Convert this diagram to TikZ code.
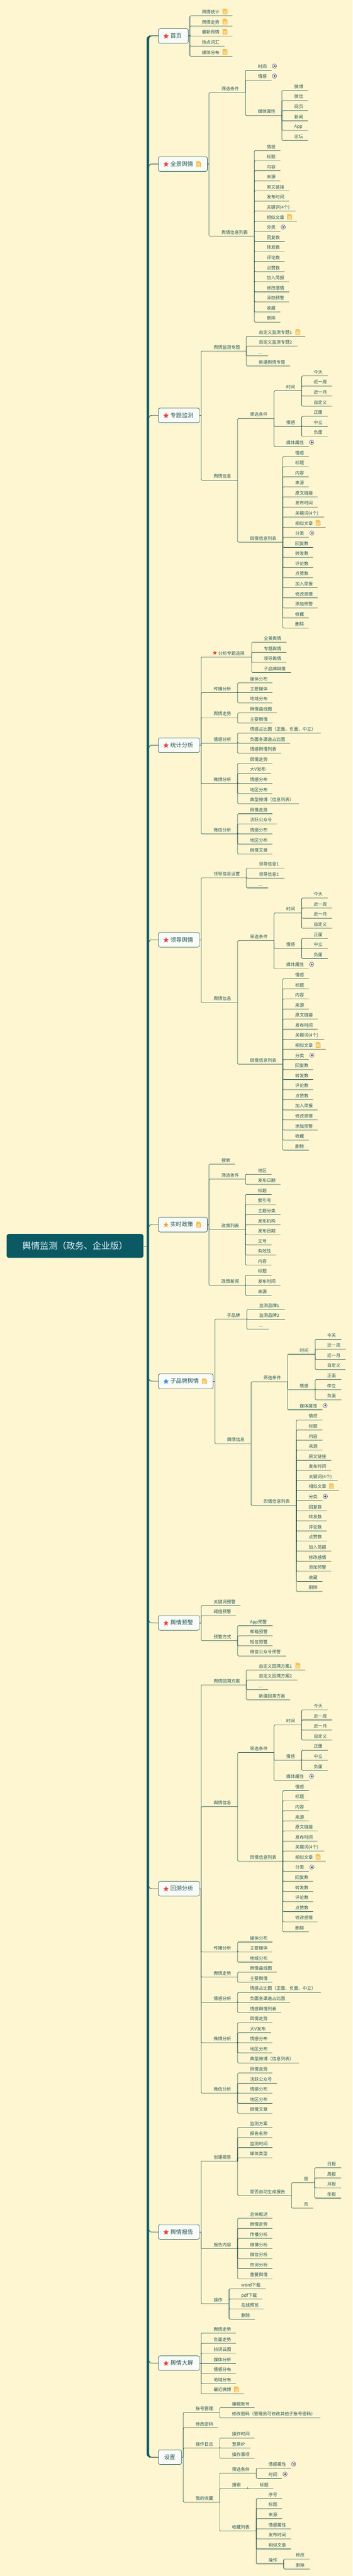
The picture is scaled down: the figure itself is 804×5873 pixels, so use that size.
\documentclass[tikz,border=0pt]{standalone}
\usepackage{fontspec}
\setmainfont{Noto Sans CJK SC}
\usetikzlibrary{shapes.geometric}
\definecolor{bgc}{HTML}{FDF6D0}
\definecolor{trunkc}{HTML}{0B5A63}
\definecolor{linec}{HTML}{17484B}
\definecolor{textc}{HTML}{24585A}
\definecolor{boxc}{HTML}{F8FBF6}
\definecolor{docc}{HTML}{F6C35A}
\definecolor{docl}{HTML}{FDE9B8}
\definecolor{starr}{HTML}{E8413E}
\definecolor{staro}{HTML}{F5A623}
\definecolor{starb}{HTML}{3D8FE0}
\tikzset{
 lab/.style={anchor=base west,inner sep=0pt,text=textc,font=\fontsize{10}{12}\selectfont},
 lnk/.style={draw=linec,line width=.8pt,rounded corners=2pt},
 boxn/.style={draw=linec,line width=.8pt,fill=boxc,rounded corners=4pt,anchor=west,inner sep=0pt,minimum height=33.3pt},
 boxt/.style={anchor=base west,inner sep=0pt,text=textc,font=\fontsize{13}{15}\selectfont},
 branch/.style={draw=linec,line width=1pt},
 rootn/.style={fill=trunkc,rounded corners=5pt,inner sep=0pt,minimum width=312pt,minimum height=54.4pt,text=white!92!cyan,font=\fontsize{20}{24}\selectfont},
 staric/.style={star,star points=5,star point ratio=2.2,inner sep=0pt,minimum size=#1},
}
\newcounter{nn}
\def\off{0}
\newcommand\Crop[1]{\def\off{#1}}
\newcommand\Kd[5]{%
 \stepcounter{nn}%
 \pgfmathsetmacro\Yp{\off+(#3)/3}%
 \pgfmathsetmacro\Xe{(#4)/1.95}%
 \pgfmathsetmacro\Xt{(#2)/1.95}%
 \pgfmathtruncatemacro\Lp{#1-1}%
 \coordinate (lv#1) at (\Xe,\Yp);%
 \node[lab] (n\arabic{nn}) at ({\Xt},{\Yp-5}) {#5};%
 \draw[lnk] (lv\Lp) |- (lv#1);%
}
\newcommand\DocI[2]{%
 \pgfmathsetmacro\Xc{(#1)/1.95}\pgfmathsetmacro\Yc{\off+(#2)/3}%
 \begin{scope}[shift={(\Xc,\Yc)}]
 \fill[docc] (-5.5,-6.5) -- (2,-6.5) -- (5.5,-3) -- (5.5,6) .. controls (5.5,6.5) and (5.2,6.5) .. (5,6.5) -- (-5,6.5) .. controls (-5.5,6.5) and (-5.5,6.2) .. (-5.5,6) -- cycle;
 \draw[docl,line width=.7pt] (-3.5,-1) -- (3.5,-1) (-3.5,1.5) -- (3.5,1.5) (-3.5,4) -- (3.5,4);
 \end{scope}}
\newcommand\PlusI[2]{%
 \pgfmathsetmacro\Xc{(#1)/1.95}\pgfmathsetmacro\Yc{\off+(#2)/3}%
 \begin{scope}[shift={(\Xc,\Yc)}]
 \draw[draw=black!55!blue!60!gray,fill=white!60!bgc,line width=.6pt] (0,0) circle[radius=5];
 \draw[black!80,line width=.6pt] (-2.5,0) -- (2.5,0) (0,-2.5) -- (0,2.5);
 \end{scope}}
\newcommand\StarI[4]{%
 \pgfmathsetmacro\Xc{(#2)/1.95}\pgfmathsetmacro\Yc{\off+(#3)/3}%
 \node[staric=#4,fill=#1] at (\Xc,\Yc) {};}
% right edge (zoom x), mid y (crop), text, text x, direction of the trunk junction
\newcommand\Bx[5]{%
 \stepcounter{nn}%
 \pgfmathsetmacro\Ym{\off+(#2)/3}%
 \pgfmathsetmacro\Bw{((#1)-703)/1.95}%
 \pgfmathsetmacro\Xs{((#1)+8)/1.95}%
 \pgfmathsetmacro\Ja{\Ym+(#5)*5}%
 \pgfmathsetmacro\Jb{\Ym+(#5)*1.5}%
 \node[boxn,minimum width=\Bw pt] (b\arabic{nn}) at (360.5,\Ym) {};%
 \node[boxt] (t\arabic{nn}) at ({(#4)/1.95},{\Ym+4.5}) {#3};%
 \coordinate (lv1) at (\Xs,\Ym);%
 \coordinate (ja) at (340,\Ja);%
 \draw[branch] (ja) .. controls (340,\Jb) and (342,\Ym) .. (346,\Ym) -- (b\arabic{nn}.west);%
 \draw[lnk] (b\arabic{nn}.east) -- (lv1);%
}
\newcommand\FilterBlock[2]{%
 \Kd{3}{#1}{#2}{#1+107}{筛选条件}
 \Kd{4}{#1+161}{#2-189}{#1+230}{时间}
 \Kd{5}{#1+283}{#2-291}{#1+346}{今天}
 \Kd{5}{#1+283}{#2-222}{#1+365}{近一周}
 \Kd{5}{#1+283}{#2-153}{#1+365}{近一月}
 \Kd{5}{#1+283}{#2-84}{#1+365}{自定义}
 \Kd{4}{#1+161}{#2+54}{#1+230}{情感}
 \Kd{5}{#1+283}{#2-15}{#1+346}{正面}
 \Kd{5}{#1+283}{#2+54}{#1+346}{中立}
 \Kd{5}{#1+283}{#2+123}{#1+346}{负面}
 \Kd{4}{#1+161}{#2+192}{#1+262}{媒体属性}
 \PlusI{#1+274}{#2+163}}
\newcommand\RowsHead[3]{%
 \Kd{#1}{#2}{#3}{#2+61}{情感}
 \Kd{#1}{#2}{#3+69}{#2+61}{标题}
 \Kd{#1}{#2}{#3+138}{#2+61}{内容}
 \Kd{#1}{#2}{#3+207}{#2+61}{来源}
 \Kd{#1}{#2}{#3+276}{#2+100}{原文链接}
 \Kd{#1}{#2}{#3+345}{#2+100}{发布时间}
 \Kd{#1}{#2}{#3+414}{#2+129}{关键词(4个)}
 \Kd{#1}{#2}{#3+483}{#2+135}{相似文章}
 \DocI{#2+102}{#3+453}
 \Kd{#1}{#2}{#3+552}{#2+61}{分类}
 \PlusI{#2+74}{#3+523}
 \Kd{#1}{#2}{#3+621}{#2+80}{回复数}
 \Kd{#1}{#2}{#3+690}{#2+80}{转发数}
 \Kd{#1}{#2}{#3+759}{#2+80}{评论数}
 \Kd{#1}{#2}{#3+828}{#2+80}{点赞数}}
\newcommand\ListFull[3]{%
 \RowsHead{#1}{#2}{#3}
 \Kd{#1}{#2}{#3+897}{#2+100}{加入简报}
 \Kd{#1}{#2}{#3+966}{#2+100}{修改感情}
 \Kd{#1}{#2}{#3+1035}{#2+100}{添加预警}
 \Kd{#1}{#2}{#3+1104}{#2+61}{收藏}
 \Kd{#1}{#2}{#3+1173}{#2+61}{删除}}
% whole info branch, filter x and filter y
\newcommand\OpInfo[2]{%
 \Kd{2}{#1-162}{#2+423}{#1-55}{舆情信息}
 \FilterBlock{#1}{#2}
 \Kd{3}{#1}{#2+846}{#1+146}{舆情信息列表}
 \ListFull{4}{#1+201}{#2+261}}
\newcommand\AnalysisB[1]{%
 \Kd{2}{949}{#1}{1056}{传播分析}
 \Kd{3}{1111}{#1-68}{1211}{媒体分布}
 \Kd{3}{1111}{#1}{1211}{主要媒体}
 \Kd{3}{1111}{#1+69}{1211}{地域分布}
 \Kd{2}{949}{#1+171}{1056}{舆情走势}
 \Kd{3}{1111}{#1+138}{1231}{舆情曲线图}
 \Kd{3}{1111}{#1+207}{1211}{主要舆情}
 \Kd{2}{949}{#1+345}{1056}{情感分析}
 \Kd{3}{1111}{#1+276}{1426}{情感占比图（正面、负面、中立）}
 \Kd{3}{1111}{#1+345}{1289}{负面各渠道占比图}
 \Kd{3}{1111}{#1+414}{1250}{情感舆情列表}
 \Kd{2}{949}{#1+621}{1056}{微博分析}
 \Kd{3}{1111}{#1+483}{1211}{舆情走势}
 \Kd{3}{1111}{#1+552}{1205}{大V发布}
 \Kd{3}{1111}{#1+621}{1211}{情感分布}
 \Kd{3}{1111}{#1+690}{1211}{地区分布}
 \Kd{3}{1111}{#1+759}{1328}{典型微博（信息列表）}
 \Kd{2}{949}{#1+966}{1056}{微信分析}
 \Kd{3}{1111}{#1+828}{1211}{舆情走势}
 \Kd{3}{1111}{#1+897}{1231}{活跃公众号}
 \Kd{3}{1111}{#1+966}{1211}{情感分布}
 \Kd{3}{1111}{#1+1035}{1211}{地区分布}
 \Kd{3}{1111}{#1+1104}{1211}{舆情文章}}
\begin{document}
\begin{tikzpicture}[x=1pt,y=-1pt]
\useasboundingbox (0,0) rectangle (804,5873);
\fill[bgc] (0,0) rectangle (804,5873);
% trunk
\fill[trunkc] (346,81.6) .. controls (338,81.6) and (334.3,83.5) .. (334.3,90) -- (334.3,5594) .. controls (334.3,5600) and (338,5602.4) .. (346,5602.4) -- (346,5601.4) .. controls (342,5601) and (340,5599) .. (340,5594) -- (340,90) .. controls (340,85) and (342,83) .. (346,82.6) -- cycle;
% root
\node[rootn] (root) at (171,2840.5) {舆情监测（政务、企业版）};
\coordinate (rootj) at (334.3,2841.5);
\draw[draw=linec!70,line width=.7pt] (root.east |- rootj) -- (rootj);
%% 首页
\Crop{0}
\Bx{836}{246}{首页}{757}{0}
\StarI{starr}{738}{248}{13pt}
\Kd{2}{897}{108}{1033}{舆情统计}\DocI{1000}{78}
\Kd{2}{897}{178}{1033}{舆情走势}\DocI{1000}{147}
\Kd{2}{897}{247}{1033}{最新舆情}\DocI{1000}{216}
\Kd{2}{897}{316}{998}{热点词汇}
\Kd{2}{897}{385}{1033}{媒体分布}\DocI{1000}{355}
%% 全景舆情
\Bx{921}{1122}{全景舆情}{757}{1}
\StarI{starr}{738}{1124}{13pt}\DocI{883}{1122}
\Kd{2}{984}{633}{1091}{筛选条件}
\Kd{3}{1146}{481}{1207}{时间}\PlusI{1220}{452}
\Kd{3}{1146}{550}{1207}{情感}\PlusI{1220}{520}
\Kd{3}{1146}{790}{1253}{媒体属性}
\Kd{4}{1308}{619}{1369}{微博}
\Kd{4}{1308}{688}{1369}{微信}
\Kd{4}{1308}{757}{1369}{网页}
\Kd{4}{1308}{826}{1369}{新闻}
\Kd{4}{1308}{892}{1369}{App}
\Kd{4}{1308}{961}{1369}{论坛}
\Kd{2}{984}{1615}{1130}{舆情信息列表}
\ListFull{3}{1185}{1030}
%% 专题监测
\Crop{490}
\Bx{886}{1371}{专题监测}{757}{1}
\StarI{starr}{738}{1373}{13pt}
\Kd{2}{949}{931}{1095}{舆情监测专题}
\Kd{3}{1150}{829}{1357}{自定义监测专题1}\DocI{1324}{800}
\Kd{3}{1150}{898}{1322}{自定义监测专题2}
\Kd{3}{1150}{964}{1192}{...}
\Kd{3}{1150}{1033}{1289}{新建舆情专题}
\OpInfo{1111}{1392}
%% 统计分析
\Crop{1470}
\Bx{886}{687}{统计分析}{757}{1}
\StarI{starr}{738}{689}{13pt}
\Kd{2}{970}{85}{1118}{分析专题选择}\StarI{starr}{955}{55}{10pt}
\Kd{3}{1172}{-17}{1273}{全景舆情}
\Kd{3}{1172}{52}{1273}{专题舆情}
\Kd{3}{1172}{121}{1273}{领导舆情}
\Kd{3}{1172}{190}{1293}{子品牌舆情}
\AnalysisB{328}
%% 领导舆情
\Crop{1960}
\Bx{886}{548}{领导舆情}{757}{1}
\StarI{starr}{738}{550}{13pt}
\Kd{2}{949}{124}{1095}{领导信息设置}
\Kd{3}{1150}{58}{1264}{领导信息1}
\Kd{3}{1150}{127}{1264}{领导信息2}
\Kd{3}{1150}{193}{1192}{...}
\OpInfo{1111}{553}
%% 实时政策
\Crop{2450}
\Bx{921}{1026}{实时政策}{757}{1}
\StarI{staro}{738}{1028}{13pt}\DocI{883}{1026}
\Kd{2}{984}{613}{1045}{搜索}
\Kd{2}{984}{715}{1091}{筛选条件}
\Kd{3}{1146}{682}{1207}{地区}
\Kd{3}{1146}{751}{1247}{发布日期}
\Kd{2}{984}{1060}{1091}{政策列表}
\Kd{3}{1146}{820}{1207}{标题}
\Kd{3}{1146}{889}{1227}{索引号}
\Kd{3}{1146}{958}{1247}{主题分类}
\Kd{3}{1146}{1027}{1247}{发布机构}
\Kd{3}{1146}{1096}{1247}{发布日期}
\Kd{3}{1146}{1165}{1207}{文号}
\Kd{3}{1146}{1234}{1227}{有效性}
\Kd{3}{1146}{1303}{1207}{内容}
\Kd{2}{984}{1441}{1091}{政策新闻}
\Kd{3}{1146}{1372}{1207}{标题}
\Kd{3}{1146}{1441}{1247}{发布时间}
\Kd{3}{1146}{1510}{1207}{来源}
%% 子品牌舆情
\Crop{2940}
\Bx{947}{627}{子品牌舆情}{757}{-1}
\StarI{starb}{738}{629}{13pt}\DocI{909}{627}
\Kd{2}{1008}{202}{1097}{子品牌}
\Kd{3}{1152}{136}{1267}{监测品牌1}
\Kd{3}{1152}{205}{1267}{监测品牌2}
\Kd{3}{1152}{271}{1195}{...}
\OpInfo{1171}{631}
%% 舆情预警
\Crop{3430}
\Bx{886}{810}{舆情预警}{757}{-1}
\StarI{starr}{738}{812}{13pt}
\Kd{2}{949}{691}{1069}{关键词预警}
\Kd{2}{949}{760}{1049}{阈值预警}
\Kd{2}{949}{931}{1056}{预警方式}
\Kd{3}{1111}{829}{1212}{App预警}
\Kd{3}{1111}{898}{1212}{邮箱预警}
\Kd{3}{1111}{967}{1212}{短信预警}
\Kd{3}{1111}{1036}{1271}{微信公众号预警}
%% 回溯分析
\Crop{3920}
\Bx{886}{1158}{回溯分析}{757}{-1}
\StarI{starr}{738}{1160}{13pt}
\Kd{2}{949}{-236}{1095}{舆情回溯方案}
\Kd{3}{1150}{-338}{1357}{自定义回溯方案1}\DocI{1324}{-368}
\Kd{3}{1150}{-269}{1322}{自定义回溯方案2}
\Kd{3}{1150}{-203}{1192}{...}
\Kd{3}{1150}{-134}{1289}{新建回溯方案}
\Kd{2}{949}{597}{1056}{舆情信息}
\FilterBlock{1111}{226}
\Kd{3}{1111}{970}{1257}{舆情信息列表}
\RowsHead{4}{1312}{487}
\Kd{4}{1312}{1384}{1412}{修改感情}
\Kd{4}{1312}{1453}{1373}{删除}
\Crop{4410}
\AnalysisB{121}
%% 舆情报告
\Crop{4900}
\Bx{886}{566}{舆情报告}{757}{-1}
\StarI{starr}{738}{568}{13pt}
\Kd{2}{949}{82}{1056}{创建报告}
\Kd{3}{1111}{-149}{1211}{监测方案}
\Kd{3}{1111}{-80}{1211}{报告名称}
\Kd{3}{1111}{-11}{1211}{监测时间}
\Kd{3}{1111}{58}{1211}{媒体类型}
\Kd{3}{1111}{316}{1296}{是否自动生成报告}
\Kd{4}{1350}{229}{1399}{是}
\Kd{5}{1454}{127}{1516}{日报}
\Kd{5}{1454}{196}{1516}{周报}
\Kd{5}{1454}{265}{1516}{月报}
\Kd{5}{1454}{334}{1516}{年报}
\Kd{4}{1350}{403}{1392}{否}
\Kd{2}{949}{679}{1056}{报告内容}
\Kd{3}{1111}{472}{1211}{总体概述}
\Kd{3}{1111}{541}{1211}{舆情走势}
\Kd{3}{1111}{610}{1211}{传播分析}
\Kd{3}{1111}{679}{1211}{微博分析}
\Kd{3}{1111}{748}{1211}{微信分析}
\Kd{3}{1111}{817}{1211}{热词分析}
\Kd{3}{1111}{886}{1211}{重要舆情}
\Kd{2}{949}{1057}{1018}{操作}
\Kd{3}{1072}{955}{1181}{word下载}
\Kd{3}{1072}{1024}{1166}{pdf下载}
\Kd{3}{1072}{1093}{1172}{在线预览}
\Kd{3}{1072}{1162}{1133}{删除}
%% 舆情大屏
\Bx{886}{1463}{舆情大屏}{757}{-1}
\StarI{starr}{738}{1465}{13pt}
\Kd{2}{949}{1258}{1049}{舆情走势}
\Kd{2}{949}{1327}{1049}{负面走势}
\Kd{2}{949}{1396}{1049}{热词云图}
\Kd{2}{949}{1465}{1049}{媒体分析}
\Kd{2}{949}{1534}{1049}{情感分布}
\Kd{2}{949}{1603}{1049}{地域分布}
\Kd{2}{949}{1672}{1085}{最近微博}\DocI{1051}{1642}
%% 设置
\Crop{5390}
\Bx{806}{636}{设置}{728}{0}
\Kd{2}{869}{331}{976}{账号管理}
\Kd{3}{1031}{298}{1131}{编辑账号}
\Kd{3}{1031}{367}{1424}{修改密码（管理员可修改其他子账号密码）}
\Kd{2}{869}{436}{970}{修改密码}
\Kd{2}{869}{574}{976}{操作日志}
\Kd{3}{1031}{505}{1131}{操作时间}
\Kd{3}{1031}{574}{1113}{登录IP}
\Kd{3}{1031}{643}{1131}{操作事项}
\Kd{2}{869}{943}{976}{我的收藏}
\Kd{3}{1031}{745}{1139}{筛选条件}
\Kd{4}{1193}{712}{1293}{情感属性}\PlusI{1305}{683}
\Kd{4}{1193}{781}{1254}{时间}\PlusI{1267}{752}
\Kd{3}{1031}{851}{1100}{搜索}
\Kd{4}{1154}{851}{1215}{标题}
\Kd{3}{1031}{1141}{1139}{收藏列表}
\Kd{4}{1193}{919}{1254}{序号}
\Kd{4}{1193}{988}{1254}{标题}
\Kd{4}{1193}{1057}{1254}{来源}
\Kd{4}{1193}{1126}{1293}{情感属性}
\Kd{4}{1193}{1195}{1293}{发布时间}
\Kd{4}{1193}{1264}{1293}{相似文章}
\Kd{4}{1193}{1366}{1261}{操作}
\Kd{5}{1314}{1333}{1377}{修改}
\Kd{5}{1314}{1402}{1377}{删除}
\end{tikzpicture}
\end{document}
